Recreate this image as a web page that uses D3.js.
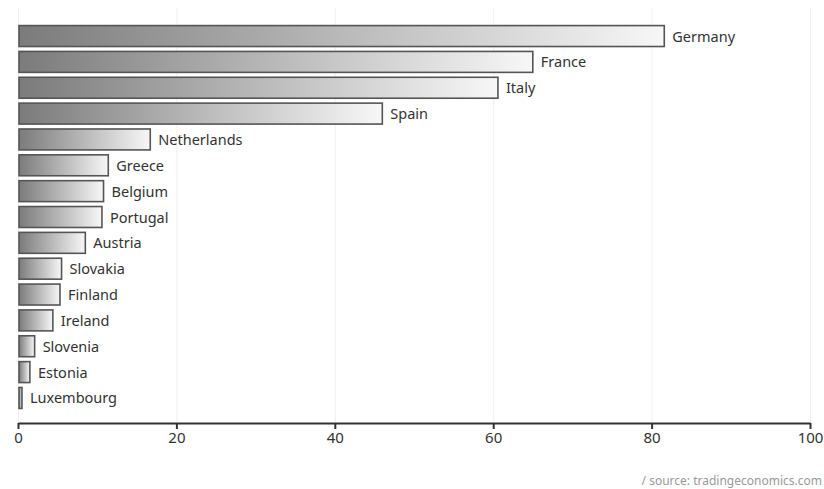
<!DOCTYPE html>
<html>
<head>
<meta charset="utf-8">
<script src="https://cdn.jsdelivr.net/npm/d3@7"></script>
<style>
  html, body { margin: 0; padding: 0; background: #fff; }
  svg { display: block; }
</style>
</head>
<body>
<svg id="chart" width="824" height="489"></svg>
<script>
// Euro area countries and their values (millions)
const countries = ["Germany", "France", "Italy", "Spain", "Netherlands", "Greece", "Belgium",
  "Portugal", "Austria", "Slovakia", "Finland", "Ireland", "Slovenia", "Estonia", "Luxembourg"];
const values = [81.6, 65.0, 60.6, 46.0, 16.7, 11.4, 10.8, 10.6, 8.5, 5.5, 5.3, 4.4, 2.1, 1.5, 0.5];
const xTicks = [0, 20, 40, 60, 80, 100];
const sourceNote = "/ source: tradingeconomics.com";

const svg = d3.select("#chart");
const font = "'Noto Sans', 'Open Sans', sans-serif";

const x = d3.scaleLinear().domain([0, 100]).range([18, 810]);
const y = d3.scaleBand().domain(countries).range([23, 411]).paddingInner(0.19).paddingOuter(0.1);
const axisY = 423;

// bar fill: dark grey on the left fading to near white on the right
const defs = svg.append("defs");
const grad = defs.append("linearGradient").attr("id", "barFill")
  .attr("x1", "0%").attr("x2", "100%").attr("y1", "0%").attr("y2", "0%");
grad.append("stop").attr("offset", "0%").attr("stop-color", "#7b7b7b");
grad.append("stop").attr("offset", "100%").attr("stop-color", "#f7f7f7");

// vertical grid lines
svg.append("g").selectAll("line").data(xTicks).join("line")
  .attr("x1", d => x(d) + 0.5).attr("x2", d => x(d) + 0.5)
  .attr("y1", 8).attr("y2", axisY)
  .attr("stroke", "#efefef").attr("stroke-width", 1);

const data = countries.map((c, i) => ({ name: c, value: values[i] }));

// bars
svg.append("g").selectAll("rect").data(data).join("rect")
  .attr("x", x(0) + 1)
  .attr("y", d => y(d.name))
  .attr("width", d => Math.max(1, x(d.value) - x(0) - 1))
  .attr("height", y.bandwidth())
  .attr("fill", "url(#barFill)")
  .attr("stroke", "#555")
  .attr("stroke-width", 1.6);

// country labels at bar ends
svg.append("g").selectAll("text").data(data).join("text")
  .attr("x", d => x(d.value) + 8)
  .attr("y", d => y(d.name) + y.bandwidth() / 2)
  .attr("dy", "0.38em")
  .attr("font-family", font)
  .attr("font-size", 14.5)
  .attr("fill", "#333")
  .text(d => d.name);

// x axis
const axis = svg.append("g")
  .attr("transform", `translate(0,${axisY})`)
  .call(d3.axisBottom(x).tickValues(xTicks).tickSize(6).tickPadding(3).tickSizeOuter(0));
axis.select(".domain").attr("stroke", "#333").attr("stroke-width", 2);
axis.selectAll(".tick line").attr("stroke", "#333").attr("stroke-width", 2);
axis.selectAll(".tick text")
  .attr("font-family", font).attr("font-size", 15).attr("fill", "#333");

// source note
svg.append("text")
  .attr("x", 822).attr("y", 485)
  .attr("text-anchor", "end")
  .attr("font-family", font)
  .attr("font-size", 12)
  .attr("fill", "#999")
  .text(sourceNote);
</script>
</body>
</html>
